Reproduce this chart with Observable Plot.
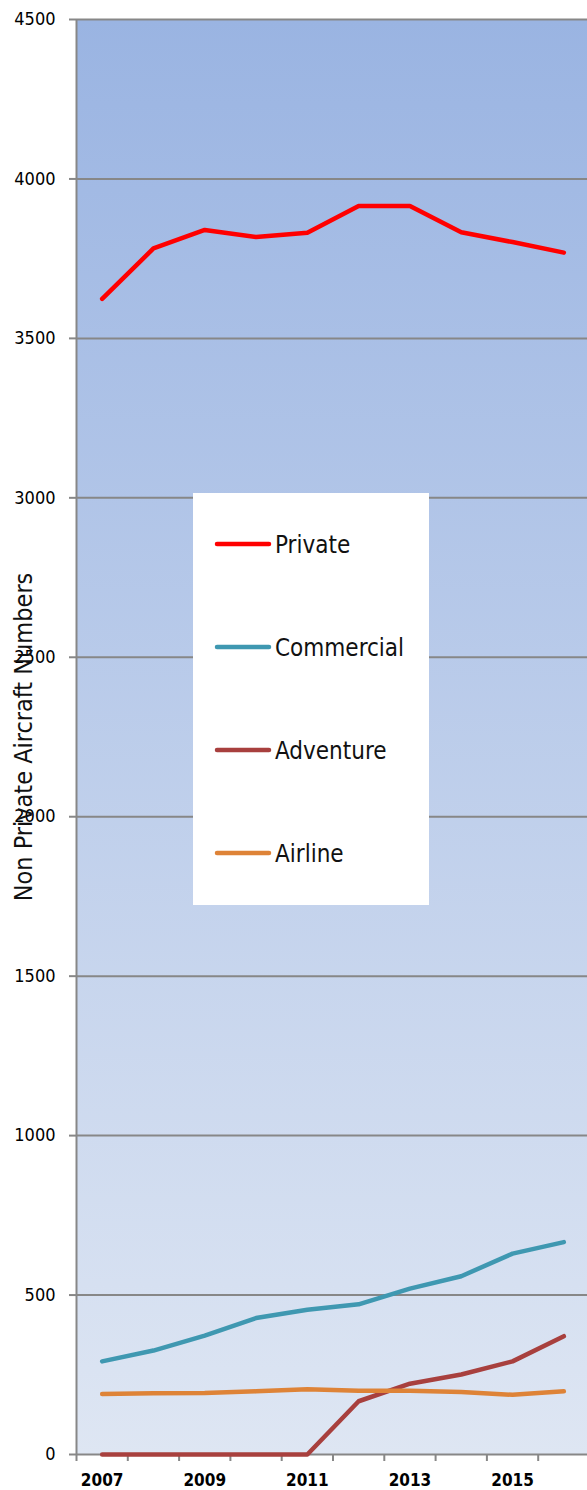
<!DOCTYPE html>
<html><head><meta charset="utf-8">
<script src="https://cdn.jsdelivr.net/npm/d3@7"></script>
<script src="https://cdn.jsdelivr.net/npm/@observablehq/plot@0.6"></script>
<style>body{margin:0;background:#fff} #chart{position:relative;width:587px;height:1490px}</style>
</head><body><div id="chart"></div>
<script>
const years = [2007, 2008, 2009, 2010, 2011, 2012, 2013, 2014, 2015, 2016];
const privateVals = [3624, 3782, 3840, 3818, 3831, 3915, 3915, 3833, 3802, 3769];
const commercialVals = [292, 326, 373, 428, 454, 471, 520, 559, 630, 666];
const adventureVals = [0, 0, 0, 0, 0, 167, 222, 251, 292, 371];
const airlineVals = [190, 192, 193, 198, 205, 200, 200, 196, 187, 198];
const seriesNames = ["Private", "Commercial", "Adventure", "Airline"];
const seriesColors = ["#ff0000", "#3f98b1", "#a8403e", "#de8337"];
const yTicks = [0, 500, 1000, 1500, 2000, 2500, 3000, 3500, 4000, 4500];
const xLabelYears = [2007, 2009, 2011, 2013, 2015];
const yTitle = "Non Private Aircraft Numbers";

const seriesValues = [privateVals, commercialVals, adventureVals, airlineVals];
const rows = [];
seriesNames.forEach((name, i) => years.forEach((yr, j) => rows.push({series: name, year: yr, value: seriesValues[i][j]})));
const tickBounds = years.map(y => y - 0.5).concat([years[years.length - 1] + 0.5]);

const font = '"DejaVu Sans Condensed","DejaVu Sans",sans-serif';
const grey = "#878787";
const plot = Plot.plot({
  width: 587, height: 1490,
  marginLeft: 76, marginRight: 0, marginTop: 19, marginBottom: 36,
  style: {fontFamily: font, background: "transparent", overflow: "visible"},
  x: {domain: [years[0] - 0.5, years[years.length - 1] + 0.5], range: [76, 589]},
  y: {domain: [0, 4500], range: [1454, 19]},
  color: {domain: seriesNames, range: seriesColors},
  marks: [
    Plot.frame({fill: "url(#bgGrad)", stroke: null}),
    Plot.gridY(yTicks, {stroke: grey, strokeOpacity: 1, strokeWidth: 2}),
    Plot.ruleX([tickBounds[0]], {stroke: grey, strokeWidth: 2, y1: 0, y2: 4500}),
    Plot.axisY(yTicks, {tickSize: 7, tickPadding: 14, stroke: grey, strokeWidth: 2, strokeOpacity: 1, fontSize: 18, fill: "#000", tickFormat: d => String(d), label: null}),
    Plot.axisX(tickBounds, {tickSize: 7, stroke: grey, strokeWidth: 2, strokeOpacity: 1, tickFormat: () => "", label: null}),
    Plot.axisX(xLabelYears, {tickSize: 0, tickPadding: 19, fontSize: 17, fontWeight: "bold", fill: "#000", tickFormat: d => String(d), label: null}),
    Plot.lineY(rows, {x: "year", y: "value", z: "series", stroke: "series", strokeWidth: 4.5, strokeLinecap: "round", strokeLinejoin: "round"})
  ]
});

const svg = d3.select(plot);
const yLabelSet = new Set(yTicks.map(String));
const xLabelSet = new Set(xLabelYears.map(String));
svg.selectAll("text").each(function() {
  const t = this.textContent.trim();
  if (xLabelSet.has(t)) {
    this.style.fontSize = "17px";
    this.style.fontWeight = "bold";
  } else if (yLabelSet.has(t)) {
    this.style.fontSize = "18px";
    this.style.fontWeight = "normal";
  }
});

const grad = svg.insert("defs", ":first-child").append("linearGradient")
  .attr("id", "bgGrad").attr("x1", 0).attr("y1", 0).attr("x2", 0).attr("y2", 1);
grad.append("stop").attr("offset", "0%").attr("stop-color", "#9ab4e2");
grad.append("stop").attr("offset", "100%").attr("stop-color", "#dee6f3");

svg.append("text")
  .attr("transform", "translate(32,737) rotate(-90)")
  .attr("text-anchor", "middle")
  .attr("font-family", font).attr("font-size", 25).attr("fill", "#111")
  .text(yTitle);

const lg = svg.append("g").attr("transform", "translate(193,493)").attr("text-anchor", "start");
lg.append("rect").attr("width", 236).attr("height", 412).attr("fill", "#fff");
seriesNames.forEach((name, i) => {
  const cy = 51 + i * 103;
  lg.append("line").attr("x1", 24).attr("x2", 76).attr("y1", cy).attr("y2", cy)
    .attr("stroke", seriesColors[i]).attr("stroke-width", 4.5).attr("stroke-linecap", "round");
  lg.append("text").attr("x", 82).attr("y", cy).attr("dy", "0.36em").attr("text-anchor", "start")
    .attr("font-family", font).attr("font-size", 24).attr("fill", "#111").text(name);
});

document.getElementById("chart").appendChild(plot);
</script>
</body></html>
